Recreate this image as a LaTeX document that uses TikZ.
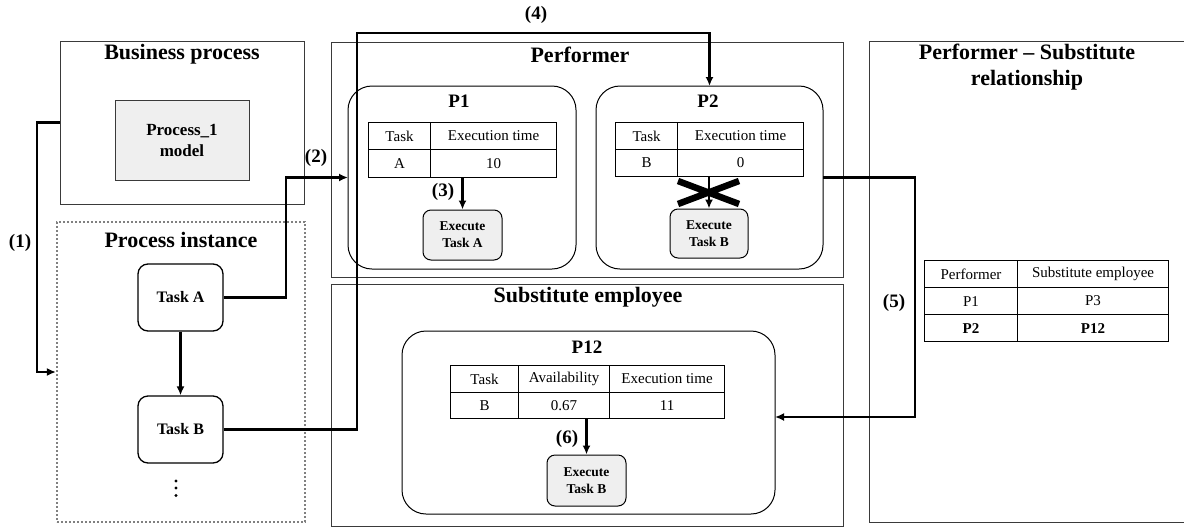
\documentclass[tikz,border=0pt]{standalone}
\usepackage{fontspec}
\setmainfont{Liberation Serif}
\usetikzlibrary{arrows.meta}
\definecolor{boxgray}{HTML}{3A3A3A}
\definecolor{lightfill}{HTML}{EFEFEF}
\tikzset{
  frame/.style={draw=boxgray, line width=1pt, inner sep=0pt, outer sep=0pt},
  title/.style={font=\fontsize{22}{26}\selectfont\bfseries, inner sep=0pt, align=center},
  ptitle/.style={font=\fontsize{19}{22}\selectfont\bfseries, inner sep=0pt},
  task/.style={draw=black, line width=1.3pt, rounded corners=10pt, minimum width=85pt, minimum height=67pt, inner sep=0pt, font=\fontsize{16}{19}\selectfont\bfseries},
  perf/.style={draw=black, line width=1pt, rounded corners=24pt, inner sep=0pt, outer sep=0pt},
  exec/.style={draw=black, line width=1pt, fill=lightfill, rounded corners=8pt, inner sep=0pt, align=center, font=\fontsize{13.5}{17}\selectfont\bfseries},
  cell/.style={draw=black, line width=1.1pt, anchor=north west, inner sep=0pt, font=\fontsize{15}{18}\selectfont},
  conn/.style={line width=2.8pt, -{Latex[length=9pt,width=8pt]}},
  lab/.style={font=\fontsize{19}{22}\selectfont\bfseries, inner sep=0pt},
}
\begin{document}
\begin{tikzpicture}[x=1pt,y=-1pt]
\useasboundingbox (0,0) rectangle (1184,528);
\clip (0,0) rectangle (1184,528);

% outer frames
\node[frame, minimum width=244pt, minimum height=163pt] (bp) at (182,122.5) {};
\node[title] (bpt) at (182,54) {Business process};
\node[draw=boxgray, line width=0.9pt, fill=lightfill, minimum width=134pt, minimum height=80pt, inner sep=0pt, align=center, font=\fontsize{17}{21}\selectfont\bfseries] (model) at (182,140) {Process\_1\\model};

\node[draw=gray, line width=2.2pt, dash pattern=on 2pt off 2pt, minimum width=248pt, minimum height=300pt, inner sep=0pt] (pi) at (181,372) {};
\node[title] (pit) at (181,240) {Process instance};
\node[task] (taskA) at (180.5,297.5) {Task A};
\node[task] (taskB) at (180.5,429.5) {Task B};
\fill (176,481) circle (1.7pt) (176,488) circle (1.7pt) (176,495.5) circle (1.7pt);

\node[frame, minimum width=512pt, minimum height=235pt] (perf) at (587,159.5) {};
\node[title] (perft) at (580,55) {Performer};
\node[frame, minimum width=512pt, minimum height=242pt] (sub) at (587,405) {};
\node[title] (subt) at (588,297) {Substitute employee};
\node[frame, minimum width=330pt, minimum height=481pt] (rel) at (1034,281.5) {};
\node[title] (relt) at (1027,67) {Performer -- Substitute\\relationship};

% P1
\node[perf, minimum width=228pt, minimum height=183pt] (P1) at (462,177.5) {};
\node[ptitle] (P1t) at (459,101) {P1};
\node[cell, minimum width=62pt, minimum height=27pt] (t1a) at (368,122) {Task};
\node[cell, minimum width=126pt, minimum height=27pt] (t1b) at (430,122) {Execution time};
\node[cell, minimum width=62pt, minimum height=28pt] (t1c) at (368,149) {A};
\node[cell, minimum width=126pt, minimum height=28pt] (t1d) at (430,149) {10};
\node[exec, minimum width=79pt, minimum height=50pt] (execA) at (462.5,235) {Execute\\Task A};
\draw[conn] (execA.north |- t1d.south) -- (execA.north);
\node[lab] (l3) at (443,192) {(3)};

% P2
\node[perf, minimum width=227pt, minimum height=183pt] (P2) at (709.5,177.5) {};
\node[ptitle] (P2t) at (708,101) {P2};
\node[cell, minimum width=62pt, minimum height=27pt] (t2a) at (615,122) {Task};
\node[cell, minimum width=126pt, minimum height=27pt] (t2b) at (677,122) {Execution time};
\node[cell, minimum width=62pt, minimum height=27pt] (t2c) at (615,149) {B};
\node[cell, minimum width=126pt, minimum height=27pt] (t2d) at (677,149) {0};
\node[exec, minimum width=78pt, minimum height=49pt] (execB) at (709,233.5) {Execute\\Task B};
\draw[conn] (execB.north |- t2d.south) -- (execB.north);
\draw[line width=6.5pt] (678,181) -- (739,204) (739,181) -- (678,204);

% P12
\node[perf, minimum width=373pt, minimum height=183pt] (P12) at (588.5,422.5) {};
\node[ptitle] (P12t) at (587,347) {P12};
\node[cell, minimum width=68pt, minimum height=27pt] (t3a) at (450,365) {Task};
\node[cell, minimum width=91pt, minimum height=27pt] (t3b) at (518,365) {Availability};
\node[cell, minimum width=115pt, minimum height=27pt] (t3c) at (609,365) {Execution time};
\node[cell, minimum width=68pt, minimum height=26pt] (t3d) at (450,392) {B};
\node[cell, minimum width=91pt, minimum height=26pt] (t3e) at (518,392) {0.67};
\node[cell, minimum width=115pt, minimum height=26pt] (t3f) at (609,392) {11};
\node[exec, minimum width=79pt, minimum height=51pt] (execC) at (586.5,480.5) {Execute\\Task B};
\draw[conn] (execC.north |- t3e.south) -- (execC.north);
\node[lab] (l6) at (567,439) {(6)};

% relationship table
\node[cell, minimum width=93pt, minimum height=27pt] (r1a) at (924,260) {Performer};
\node[cell, minimum width=151pt, minimum height=27pt] (r1b) at (1017,260) {Substitute employee};
\node[cell, minimum width=93pt, minimum height=27pt] (r2a) at (924,287) {P1};
\node[cell, minimum width=151pt, minimum height=27pt] (r2b) at (1017,287) {P3};
\node[cell, minimum width=93pt, minimum height=27pt, font=\fontsize{15}{18}\selectfont\bfseries] (r3a) at (924,314) {P2};
\node[cell, minimum width=151pt, minimum height=27pt, font=\fontsize{15}{18}\selectfont\bfseries] (r3b) at (1017,314) {P12};

% connectors
\draw[conn] (bp.west) -- (37,122.5) |- (pi.west);
\node[lab] (l1) at (20,243) {(1)};
\draw[conn] (taskA) -- (taskB);
\draw[conn] (taskA.east) -- (286,297.5) |- (P1.west);
\node[lab] (l2) at (316,158) {(2)};
\draw[conn] (taskB.east) -- (357,429.5) -- (357,33) -| (P2.north);
\node[lab] (l4) at (536,15) {(4)};
\draw[conn] (P2.east) -- (915,177.5) -- (915,417) -- (P12.east |- 915,417);
\node[lab] (l5) at (894,303) {(5)};
\end{tikzpicture}
\end{document}
